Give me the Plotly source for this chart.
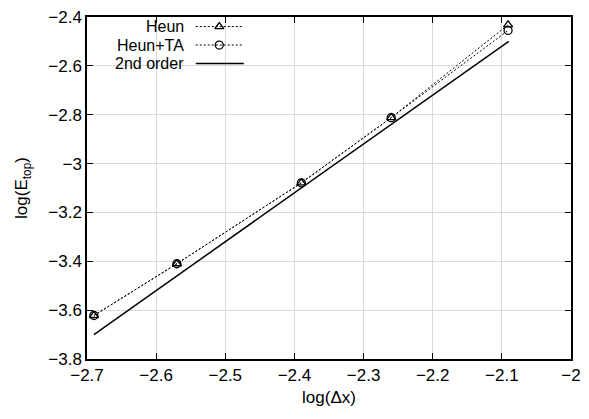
import plotly.graph_objects as go

# Data
log_dx = [-2.69, -2.57, -2.39, -2.26, -2.091]
heun = [-3.622, -3.41, -3.079, -2.812, -2.432]
heun_ta = [-3.622, -3.41, -3.079, -2.812, -2.455]
order2_x = [-2.69, -2.09]
order2_y = [-3.70, -2.50]

series_names = ["Heun", "Heun+TA", "2nd order"]
x_ticks = [-2.7, -2.6, -2.5, -2.4, -2.3, -2.2, -2.1, -2.0]
y_ticks = [-3.8, -3.6, -3.4, -3.2, -3.0, -2.8, -2.6, -2.4]

FONT = "Liberation Sans, Arial, Helvetica, sans-serif"
FS = 17
DASH = "2px,2px"

fig = go.Figure()
fig.add_trace(go.Scatter(x=log_dx, y=heun, mode="lines+markers", name=series_names[0],
                         line=dict(color="black", width=1, dash=DASH),
                         marker=dict(symbol="triangle-up-open", size=8, color="black",
                                     line=dict(width=1.3, color="black")),
                         showlegend=False))
fig.add_trace(go.Scatter(x=log_dx, y=heun_ta, mode="lines+markers", name=series_names[1],
                         line=dict(color="black", width=1, dash=DASH),
                         marker=dict(symbol="circle-open", size=8, color="black",
                                     line=dict(width=1.3, color="black")),
                         showlegend=False))
fig.add_trace(go.Scatter(x=order2_x, y=order2_y, mode="lines", name=series_names[2],
                         line=dict(color="black", width=1.5), showlegend=False))

# Manual gnuplot-style legend (text on the left, sample on the right)
leg_y = [0.972, 0.918, 0.864]
leg_text_x = 0.2024
leg_x0, leg_x1, leg_xm = 0.2247, 0.3239, 0.2733
styles = [
    dict(dash=DASH, width=1, symbol="triangle-up-open"),
    dict(dash=DASH, width=1, symbol="circle-open"),
    dict(dash="solid", width=1.5, symbol=None),
]
for name, yy, st in zip(series_names, leg_y, styles):
    fig.add_trace(go.Scatter(x=[leg_x0, leg_x1], y=[yy, yy], mode="lines",
                             xaxis="x2", yaxis="y2", showlegend=False, hoverinfo="skip",
                             line=dict(color="black", width=st["width"], dash=st["dash"])))
    if st["symbol"]:
        fig.add_trace(go.Scatter(x=[leg_xm], y=[yy], mode="markers",
                                 xaxis="x2", yaxis="y2", showlegend=False, hoverinfo="skip",
                                 marker=dict(symbol=st["symbol"], size=8, color="black",
                                             line=dict(width=1.3, color="black"))))
    fig.add_annotation(x=leg_text_x, y=yy, xref="x2", yref="y2", text=name,
                       showarrow=False, xanchor="right", yanchor="middle",
                       height=17, borderpad=0,
                       font=dict(family=FONT, size=16, color="black"))

axis_common = dict(
    showgrid=True, gridcolor="#d9d9d9", gridwidth=1,
    showline=True, linecolor="black", linewidth=1.5, mirror="allticks",
    ticks="inside", ticklen=6, tickcolor="black", tickwidth=1,
    zeroline=False,
    tickfont=dict(family=FONT, size=FS, color="black"),
)

fig.update_layout(
    width=589, height=419,
    margin=dict(l=87, r=8, t=10, b=60),
    paper_bgcolor="white", plot_bgcolor="white",
    font=dict(family=FONT, size=FS, color="black"),
    xaxis=dict(range=[-2.7, -2.0], tickvals=x_ticks,
               ticktext=[("%g" % v).replace("-", "\u2212") for v in x_ticks],
               title=dict(text="log(\u0394x)", font=dict(family=FONT, size=FS), standoff=7),
               **axis_common),
    yaxis=dict(range=[-3.8, -2.4], tickvals=y_ticks,
               ticktext=[("%g" % v).replace("-", "\u2212") for v in y_ticks],
               title=dict(text="log(E<sub>top</sub>)", font=dict(family=FONT, size=FS), standoff=16),
               **axis_common),
    xaxis2=dict(overlaying="x", range=[0, 1], visible=False, fixedrange=True),
    yaxis2=dict(overlaying="y", range=[0, 1], visible=False, fixedrange=True),
)

fig.write_html("out.html")
